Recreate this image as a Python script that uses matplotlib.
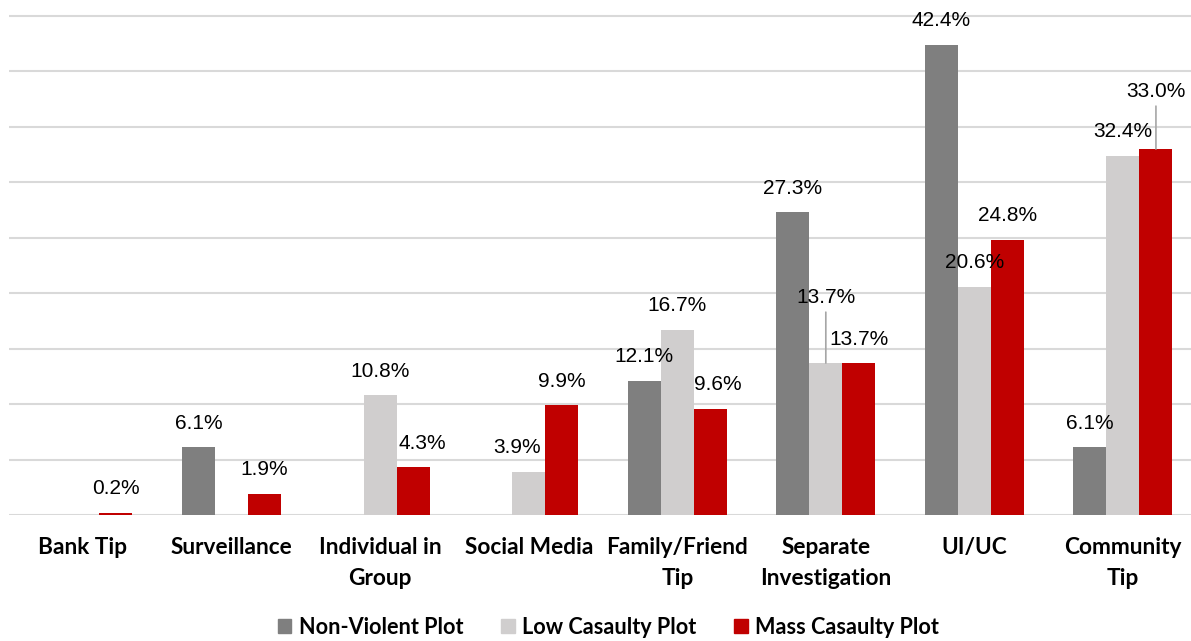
import numpy as np
import matplotlib
matplotlib.use("Agg")
import matplotlib.pyplot as plt
from matplotlib.patches import Patch

categories = ["Bank Tip", "Surveillance", "Individual in\nGroup", "Social Media",
              "Family/Friend\nTip", "Separate\nInvestigation", "UI/UC", "Community\nTip"]
series_names = ["Non-Violent Plot", "Low Casaulty Plot", "Mass Casaulty Plot"]
non_violent = [0.0, 6.1, 0.0, 0.0, 12.1, 27.3, 42.4, 6.1]
low_casualty = [0.0, 0.0, 10.8, 3.9, 16.7, 13.7, 20.6, 32.4]
mass_casualty = [0.2, 1.9, 4.3, 9.9, 9.6, 13.7, 24.8, 33.0]
colors = ["#7f7f7f", "#d0cece", "#c00000"]

# label nudges (pixels) where the labels were moved to avoid overlaps
label_shift = {(2, 2): (9, 0), (1, 3): (-12, 0), (2, 4): (8, 0),
               (1, 5): (0, 42), (2, 7): (0, 34)}
leader = {(1, 5), (2, 7)}

W, H = 1191, 641
fig = plt.figure(figsize=(W / 100, H / 100), dpi=100)
px_per_unit = (515 - 16) / 45
ytop = 45.3
ax = fig.add_axes([9 / W, (H - 515) / H, (W - 9) / W, ytop * px_per_unit / H])

x = np.arange(len(categories))
bw = 0.222
data = [non_violent, low_casualty, mass_casualty]
for s, vals in enumerate(data):
    xs = x + (s - 1) * bw
    ax.bar(xs, vals, width=bw, color=colors[s], zorder=3)
    for i, v in enumerate(vals):
        if v == 0:
            continue
        dx, dy = label_shift.get((s, i), (0, 0))
        arrow = None
        if (s, i) in leader:
            arrow = dict(arrowstyle="-", color="#a6a6a6", lw=1.2,
                         shrinkA=2, shrinkB=0)
        ax.annotate(f"{v:.1f}%", xy=(xs[i], v), xytext=(dx, 24 + dy),
                    textcoords="offset pixels", ha="center", va="center",
                    fontsize=15, family="Liberation Sans", color="black",
                    arrowprops=arrow, zorder=5)

ax.set_xlim(-0.498, 7.458)
ax.set_ylim(0, ytop)
ax.set_yticks(np.arange(0, 50, 5))
ax.set_yticklabels([])
ax.tick_params(axis="y", length=0)
ax.yaxis.grid(True, color="#d9d9d9", lw=1.5, zorder=0)
ax.set_axisbelow(True)
for sp in ax.spines.values():
    sp.set_visible(False)

ax.set_xticks(x)
ax.set_xticklabels(categories, fontsize=16.3, fontweight="bold", family="Lato",
                   linespacing=1.55, va="top")
ax.tick_params(axis="x", length=0, pad=16)

handles = [Patch(color=c) for c in colors]
fig.legend(handles, series_names, loc="center", ncol=3,
           bbox_to_anchor=(0.511, (H - 627) / H), frameon=False,
           prop=dict(family="Lato", weight="bold", size=15.6),
           handlelength=0.62, handleheight=0.62, handletextpad=0.35,
           columnspacing=1.75)

fig.savefig("out.png", dpi=100)
